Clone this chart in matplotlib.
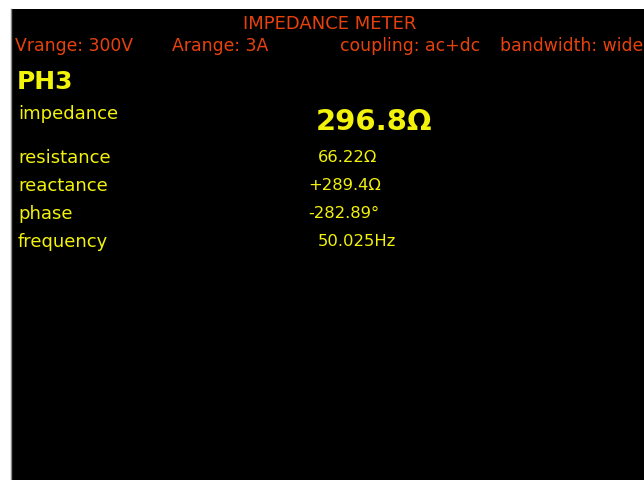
import matplotlib.pyplot as plt
from matplotlib.patches import Rectangle

# screen contents
title = "IMPEDANCE METER"
settings = ["Vrange: 300V", "Arange: 3A", "coupling: ac+dc", "bandwidth: wide"]
settings_x = [15, 172, 340, 500]
phase_name = "PH3"
main_label = "impedance"
main_value = "296.8\u03a9"
labels = ["resistance", "reactance", "phase", "frequency"]
values = ["66.22\u03a9", "+289.4\u03a9", "-282.89\u00b0", "50.025Hz"]
values_x = [318, 308, 308, 318]

ORANGE = "#e8420c"
YELLOW = "#f2f20a"

fig = plt.figure(figsize=(6.44, 4.81), dpi=100)
ax = fig.add_axes([0, 0, 1, 1])
ax.set_xlim(0, 644)
ax.set_ylim(481, 0)
ax.axis("off")

# black display area
ax.add_patch(Rectangle((12, 10), 640, 480, facecolor="black", edgecolor="none"))
ax.plot([11.5, 11.5], [10, 481], color="#888888", lw=1)

font = "DejaVu Sans"
ax.text(330, 24, title, color=ORANGE, fontsize=13, ha="center", va="center",
        family=font)
for s, x in zip(settings, settings_x):
    ax.text(x, 46, s, color=ORANGE, fontsize=12.4, ha="left", va="center",
            family=font, clip_on=True)

ax.text(17, 82, phase_name, color=YELLOW, fontsize=18, ha="left", va="center",
        family=font, fontweight="bold")
ax.text(18, 114, main_label, color=YELLOW, fontsize=13, ha="left", va="center",
        family=font)
ax.text(316, 122, main_value, color=YELLOW, fontsize=21, ha="left", va="center",
        family=font, fontweight="bold")

for i, (lab, val, vx) in enumerate(zip(labels, values, values_x)):
    y = 158 + 28 * i
    ax.text(18, y, lab, color=YELLOW, fontsize=13, ha="left", va="center", family=font)
    ax.text(vx, y, val, color=YELLOW, fontsize=11.8, ha="left", va="center", family=font)

fig.savefig("out.png", dpi=100, facecolor="white")
